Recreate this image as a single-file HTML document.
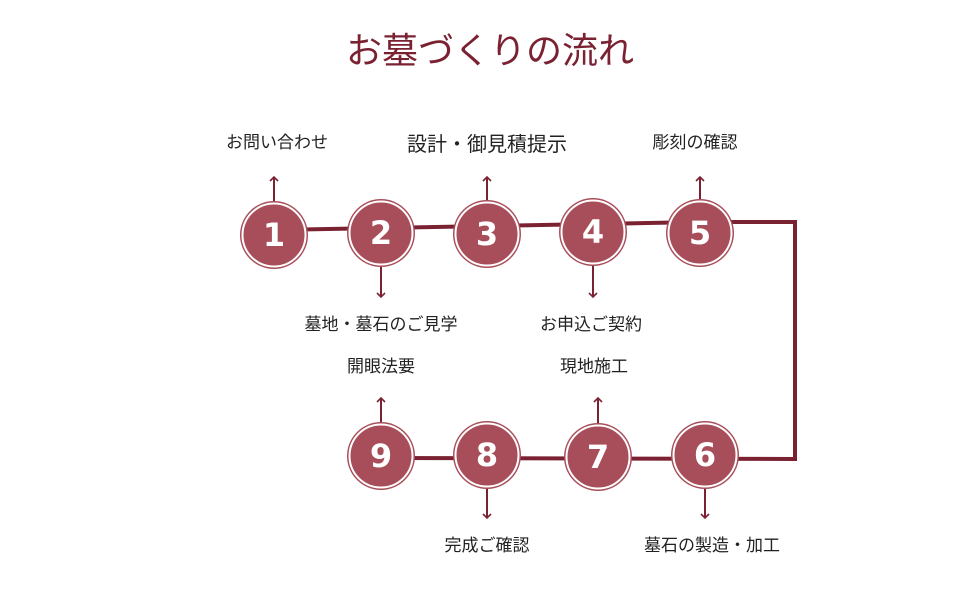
<!DOCTYPE html><html><head><meta charset="utf-8"><style>body{margin:0;background:#fff}</style></head><body>
<svg width="980" height="600" xmlns="http://www.w3.org/2000/svg" font-family="'Liberation Sans','Noto Sans CJK JP',sans-serif">
<defs><marker id="a" markerWidth="10" markerHeight="10" refX="5" refY="5" orient="auto" markerUnits="userSpaceOnUse"><path d="M1,1 L5,5 L1,9" fill="none" stroke="#7a2232" stroke-width="1.6"/></marker></defs>
<text x="490" y="63" text-anchor="middle" font-size="36" fill="#7a2232">お墓づくりの流れ</text>
<g stroke="#7a2232" fill="none">
<polyline points="274,230 700,222 795,222 795,459 381,458" stroke-width="4"/>
<g stroke-width="2" marker-end="url(#a)">
<line x1="274" y1="202" x2="274" y2="177"/><line x1="487" y1="202" x2="487" y2="177"/><line x1="700" y1="200" x2="700" y2="177"/>
<line x1="381" y1="266" x2="381" y2="297"/><line x1="593" y1="265" x2="593" y2="297"/>
<line x1="381" y1="423" x2="381" y2="398"/><line x1="598" y1="424" x2="598" y2="398"/>
<line x1="487" y1="488" x2="487" y2="518"/><line x1="705" y1="488" x2="705" y2="518"/>
</g></g>
<g font-size="32" font-weight="900" fill="#fff" text-anchor="middle" font-family="'DejaVu Sans','Liberation Sans',sans-serif">
<g><circle cx="274" cy="235" r="34" fill="#a84e5a"/><circle cx="274" cy="235" r="31.5" fill="none" stroke="#fff" stroke-width="2"/><text x="274" y="246">1</text></g>
<g><circle cx="381" cy="233" r="34" fill="#a84e5a"/><circle cx="381" cy="233" r="31.5" fill="none" stroke="#fff" stroke-width="2"/><text x="381" y="244">2</text></g>
<g><circle cx="487" cy="234" r="34" fill="#a84e5a"/><circle cx="487" cy="234" r="31.5" fill="none" stroke="#fff" stroke-width="2"/><text x="487" y="245">3</text></g>
<g><circle cx="593" cy="232" r="34" fill="#a84e5a"/><circle cx="593" cy="232" r="31.5" fill="none" stroke="#fff" stroke-width="2"/><text x="593" y="243">4</text></g>
<g><circle cx="700" cy="233" r="34" fill="#a84e5a"/><circle cx="700" cy="233" r="31.5" fill="none" stroke="#fff" stroke-width="2"/><text x="700" y="244">5</text></g>
<g><circle cx="381" cy="456" r="34" fill="#a84e5a"/><circle cx="381" cy="456" r="31.5" fill="none" stroke="#fff" stroke-width="2"/><text x="381" y="467">9</text></g>
<g><circle cx="487" cy="455" r="34" fill="#a84e5a"/><circle cx="487" cy="455" r="31.5" fill="none" stroke="#fff" stroke-width="2"/><text x="487" y="466">8</text></g>
<g><circle cx="598" cy="457" r="34" fill="#a84e5a"/><circle cx="598" cy="457" r="31.5" fill="none" stroke="#fff" stroke-width="2"/><text x="598" y="468">7</text></g>
<g><circle cx="705" cy="455" r="34" fill="#a84e5a"/><circle cx="705" cy="455" r="31.5" fill="none" stroke="#fff" stroke-width="2"/><text x="705" y="466">6</text></g>
</g>
<g font-size="17" fill="#222" text-anchor="middle">
<text x="277" y="148">お問い合わせ</text>
<text x="487" y="151" font-size="20">設計・御見積提示</text>
<text x="695" y="148">彫刻の確認</text>
<text x="381" y="330">墓地・墓石のご見学</text>
<text x="591" y="330">お申込ご契約</text>
<text x="381" y="372">開眼法要</text>
<text x="594" y="372">現地施工</text>
<text x="487" y="551">完成ご確認</text>
<text x="712" y="551">墓石の製造・加工</text>
</g>
</svg></body></html>
